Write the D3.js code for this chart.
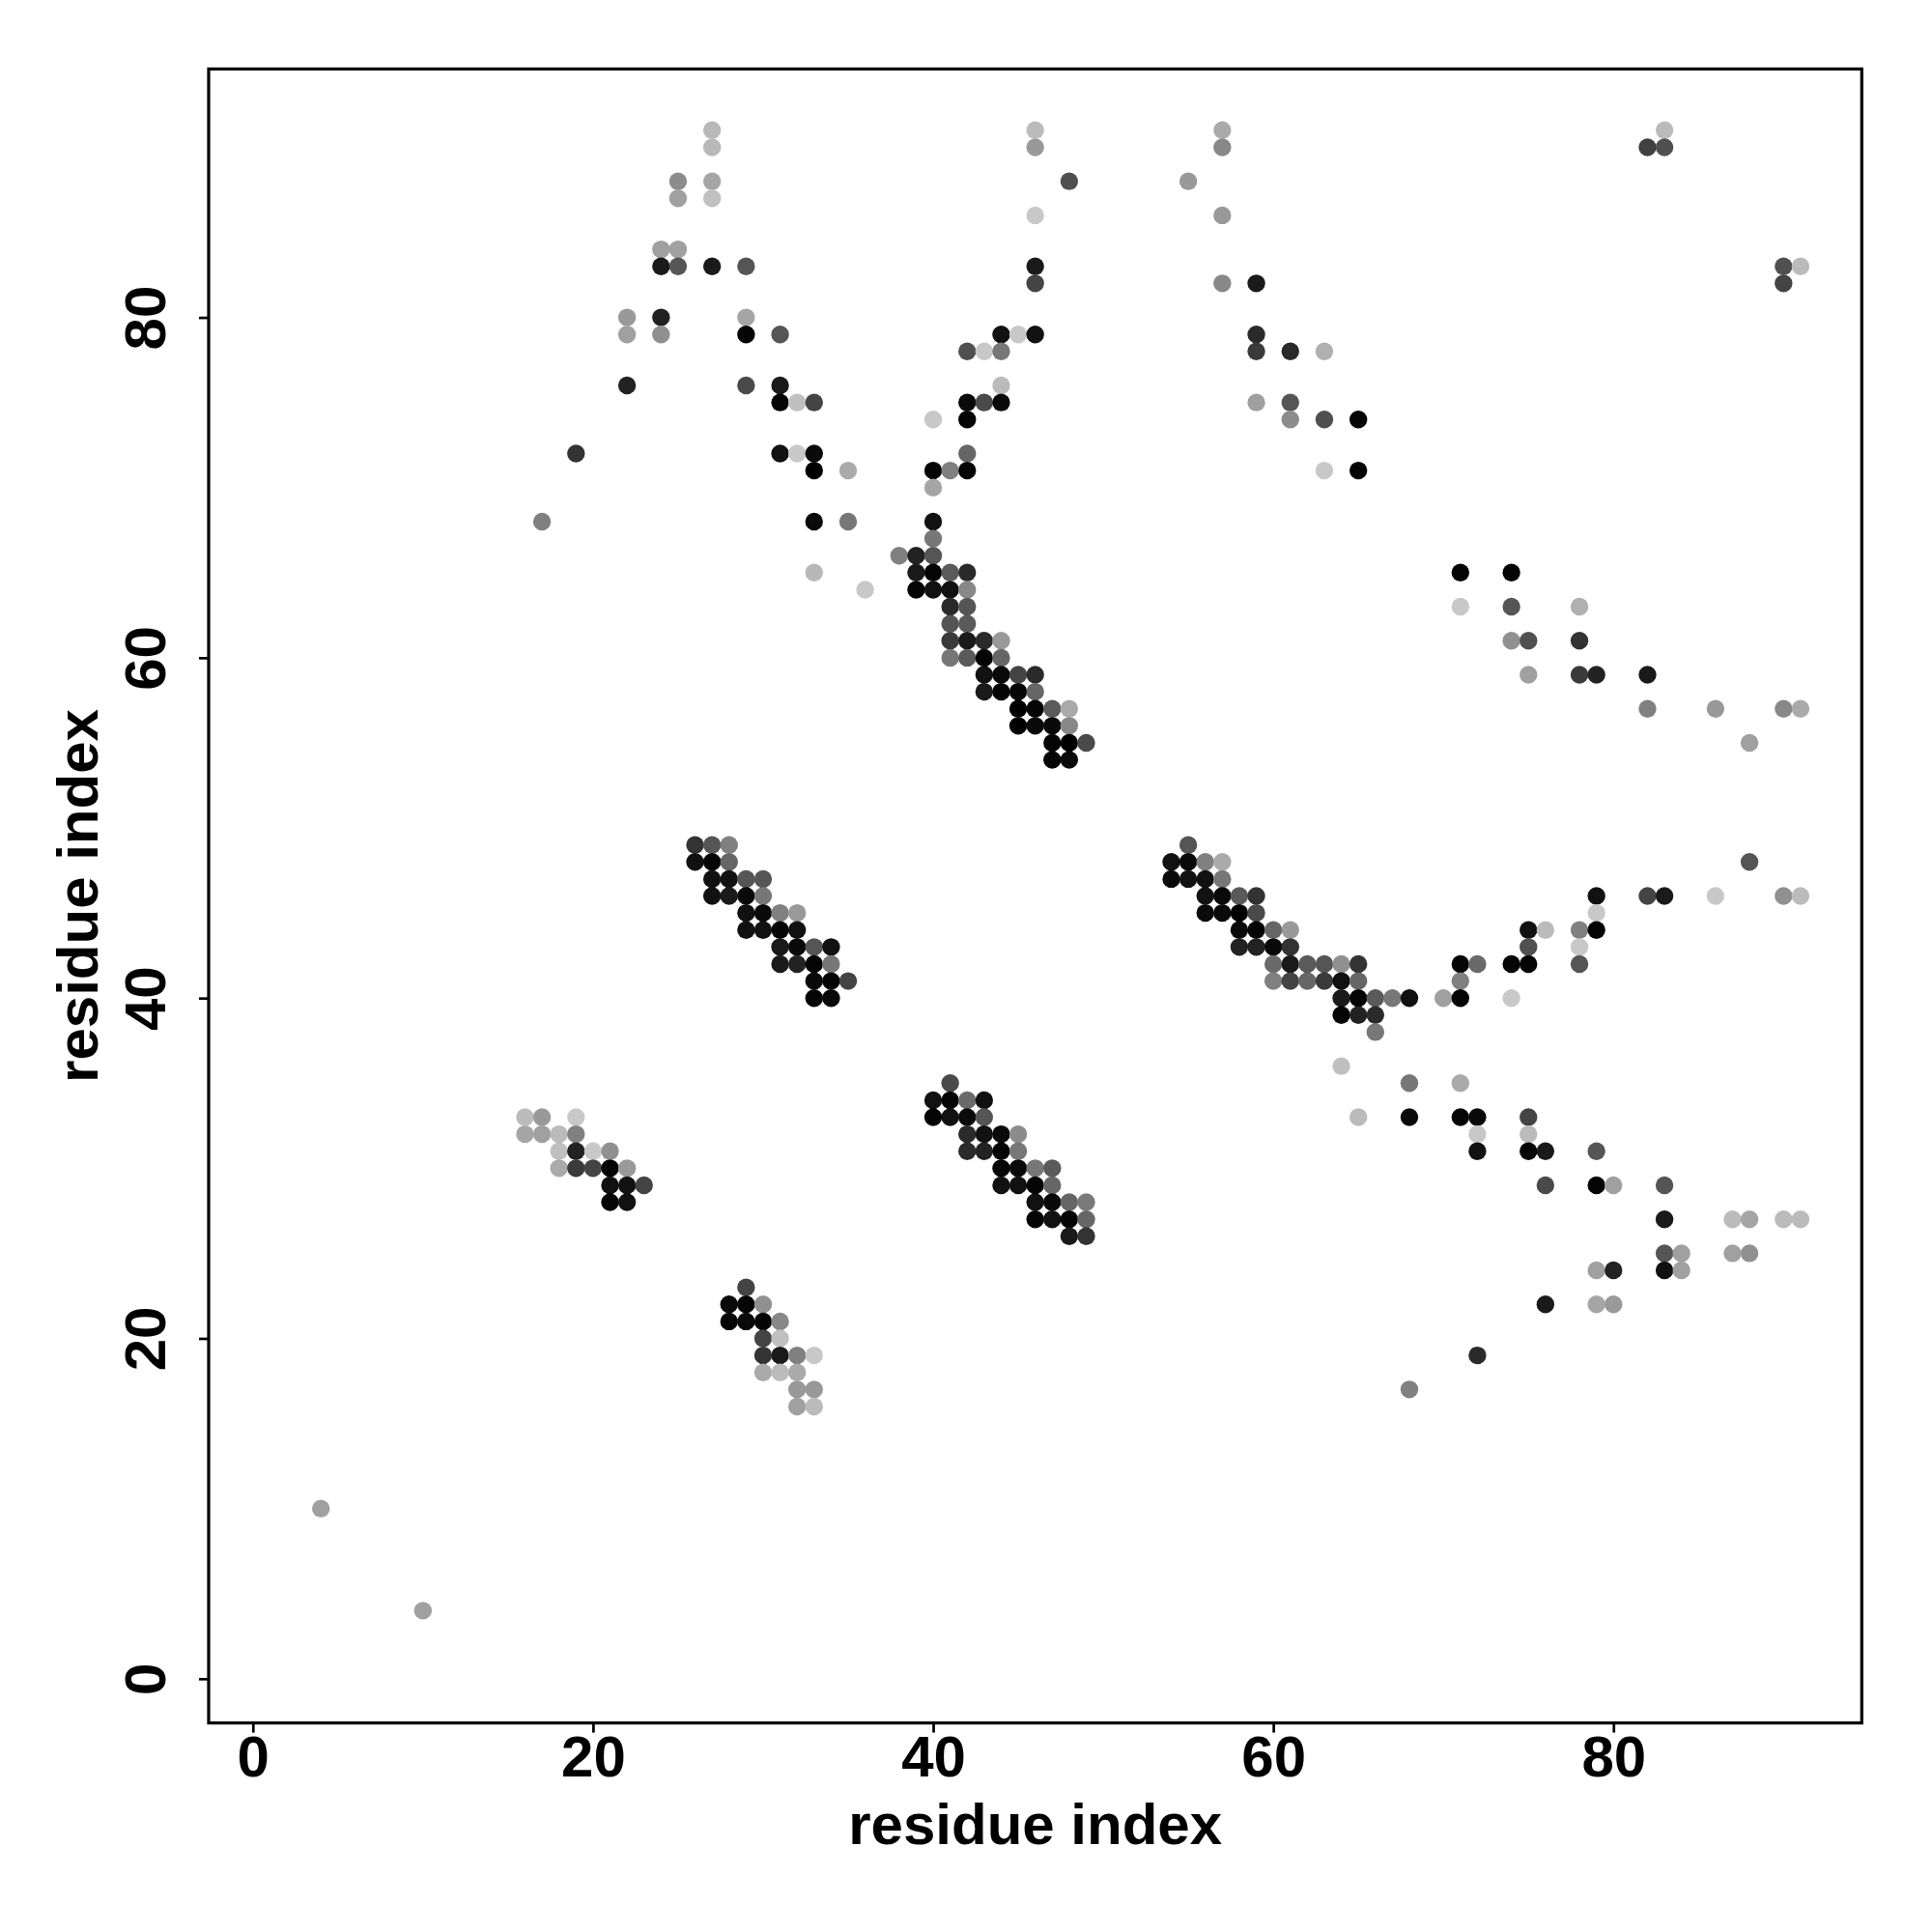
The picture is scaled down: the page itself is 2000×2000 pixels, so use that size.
<!DOCTYPE html>
<html>
<head>
<meta charset="utf-8">
<script src="https://cdn.jsdelivr.net/npm/d3@7"></script>
<style>
  html, body { margin: 0; padding: 0; background: #ffffff; }
  svg { display: block; }
  text { font-family: "Liberation Sans", Arial, Helvetica, sans-serif; font-weight: bold; }
</style>
</head>
<body>
<svg id="chart" width="2000" height="2000"></svg>
<script>
// Contacts: [residue i (x), residue j (y), grey level 0-255]
const strandUpperLeft = [
  [27,91,184],[27,90,184],[25,88,140],[27,88,165],[25,87,160],[27,87,192],
  [24,84,160],[25,84,160],[24,83,26],[25,83,85],[27,83,26],[29,83,85],
  [22,80,153],[24,80,34],[29,80,165],[22,79,160],[24,79,144],[29,79,5],[31,79,85],
  [22,76,34],[29,76,74],[31,76,26],[31,75,5],[32,75,192],[33,75,68],
  [19,72,51],[31,72,17],[32,72,200],[33,72,10],[33,71,0],[35,71,170],
  [17,68,128],[33,68,10],[35,68,119],[33,65,184],[36,64,200]
];
const strandUpperMiddle = [
  [46,91,187],[46,90,153],[48,88,80],[46,86,200],[46,83,26],[46,82,68],
  [44,79,17],[45,79,200],[46,79,17],[42,78,80],[43,78,200],[44,78,119],
  [44,76,187],[42,75,10],[43,75,74],[44,75,10],[40,74,200],[42,74,5],
  [42,72,102],[40,71,5],[41,71,128],[42,71,5],[40,70,165],[40,68,17],[40,67,119],
  [38,66,128],[39,66,34],[40,66,85],[39,65,26],[40,65,5],[41,65,90],[42,65,42],
  [39,64,5],[40,64,17],[41,64,17],[42,64,136],[41,63,42],[42,63,85],
  [41,62,85],[42,62,90],[41,61,58],[42,61,26],[43,61,42],[44,61,153],
  [41,60,119],[42,60,90],[43,60,5],[44,60,102],[43,59,17],[44,59,10],[45,59,68],[46,59,42],
  [43,58,26],[44,58,5],[45,58,5],[46,58,102],[45,57,0],[46,57,5],[47,57,90],[48,57,170],
  [45,56,0],[46,56,10],[47,56,10],[48,56,136],[47,55,5],[48,55,0],[49,55,74],
  [47,54,5],[48,54,10]
];
const strandUpperRight = [
  [57,91,170],[57,90,136],[55,88,153],[57,86,153],[57,82,136],[59,82,26],
  [59,79,42],[59,78,58],[61,78,42],[63,78,176],[59,75,160],[61,75,85],
  [61,74,140],[63,74,80],[65,74,5],[63,71,200],[65,71,5],
  [83,91,187],[82,90,64],[83,90,80],[90,83,80],[91,83,187],[90,82,68],
  [71,65,5],[74,65,5],[71,63,200],[74,63,85],[78,63,176],
  [74,61,144],[75,61,80],[78,61,51],[75,59,160],[78,59,58],[79,59,34],[82,59,26],
  [82,57,128],[86,57,153],[90,57,136],[91,57,170],[88,55,160]
];
const helixBlockA = [
  [26,49,51],[27,49,85],[28,49,128],[26,48,17],[27,48,5],[28,48,102],
  [27,47,17],[28,47,17],[29,47,85],[30,47,85],[27,46,17],[28,46,26],[29,46,10],[30,46,119],
  [29,45,17],[30,45,10],[31,45,128],[32,45,153],[29,44,17],[30,44,17],[31,44,5],[32,44,17],
  [31,43,26],[32,43,10],[33,43,85],[34,43,17],[31,42,26],[32,42,34],[33,42,5],[34,42,119],
  [33,41,10],[34,41,5],[35,41,68],[33,40,5],[34,40,10]
];
const helixBlockB = [
  [16,33,187],[17,33,153],[19,33,200],[16,32,165],[17,32,160],[18,32,187],[19,32,128],
  [18,31,192],[19,31,34],[20,31,200],[21,31,144],
  [18,30,170],[19,30,58],[20,30,68],[21,30,5],[22,30,153],
  [21,29,17],[22,29,17],[23,29,68],[21,28,5],[22,28,17],
  [29,23,68],[28,22,10],[29,22,5],[30,22,144],[28,21,5],[29,21,10],[30,21,5],[31,21,136],
  [30,20,68],[31,20,192],[30,19,51],[31,19,26],[32,19,128],[33,19,200],
  [30,18,170],[31,18,187],[32,18,170],[32,17,153],[33,17,153],[32,16,160],[33,16,187],
  [4,10,160],[10,4,160]
];
const helixBlockC = [
  [41,35,74],[40,34,17],[41,34,5],[42,34,106],[43,34,17],
  [40,33,5],[41,33,17],[42,33,10],[43,33,85],[42,32,42],[43,32,17],[44,32,10],[45,32,140],
  [42,31,42],[43,31,34],[44,31,5],[45,31,119],[44,30,5],[45,30,10],[46,30,119],[47,30,90],
  [44,29,17],[45,29,17],[46,29,5],[47,29,102],[46,28,17],[47,28,10],[48,28,102],[49,28,122],
  [46,27,5],[47,27,17],[48,27,5],[49,27,102],[48,26,26],[49,26,51]
];
const helixBlockD = [
  [55,49,85],[54,48,17],[55,48,10],[56,48,128],[57,48,170],
  [54,47,10],[55,47,17],[56,47,17],[57,47,119],[56,46,17],[57,46,10],[58,46,90],[59,46,51],
  [56,45,10],[57,45,10],[58,45,0],[59,45,74],[58,44,10],[59,44,5],[60,44,102],[61,44,153],
  [58,43,34],[59,43,34],[60,43,10],[61,43,51],
  [60,42,106],[61,42,26],[62,42,90],[63,42,85],[64,42,144],[65,42,51],
  [60,41,128],[61,41,68],[62,41,102],[63,41,58],[64,41,17],[65,41,102],
  [64,40,26],[65,40,5],[66,40,90],[67,40,119],[68,40,17],[70,40,160],
  [64,39,5],[65,39,34],[66,39,42],[66,38,119],[64,36,192]
];
const strandLowerRight = [
  [88,48,85],[79,46,17],[82,46,68],[83,46,26],[86,46,200],[90,46,144],[91,46,187],
  [79,45,200],[75,44,17],[76,44,187],[78,44,128],[79,44,5],[75,43,80],[78,43,200],
  [71,42,5],[72,42,106],[74,42,5],[75,42,5],[78,42,85],[71,41,128],[71,40,5],[74,40,200],
  [65,33,187],[68,35,119],[71,35,170],[68,33,10],[71,33,5],[72,33,10],[75,33,68],
  [72,32,200],[75,32,187],[72,31,17],[75,31,5],[76,31,26],[79,31,85],
  [76,29,74],[79,29,5],[80,29,160],[83,29,85],
  [83,27,26],[87,27,187],[88,27,165],[90,27,187],[91,27,187],
  [83,25,85],[84,25,160],[87,25,160],[88,25,144],
  [79,24,160],[80,24,34],[83,24,17],[84,24,160],
  [76,22,26],[79,22,165],[80,22,153],[72,19,42],[68,17,128]
];
const xTicks = [0, 20, 40, 60, 80];
const yTicks = [0, 20, 40, 60, 80];
const xLabel = "residue index";
const yLabel = "residue index";

const contacts = [].concat(strandUpperLeft, strandUpperMiddle, strandUpperRight,
  helixBlockA, helixBlockB, helixBlockC, helixBlockD, strandLowerRight);

const svg = d3.select("#chart");
svg.append("rect").attr("width", 2000).attr("height", 2000).attr("fill", "#ffffff");

const plot = { left: 216, right: 1927.3, top: 71.4, bottom: 1783.6 };
const x = d3.scaleLinear().domain([-2.6, 94.6]).range([plot.left, plot.right]);
const y = d3.scaleLinear().domain([-2.6, 94.6]).range([plot.bottom, plot.top]);
const fontSize = 60;

// points
svg.append("g").selectAll("circle").data(contacts).join("circle")
  .attr("cx", d => x(d[0]))
  .attr("cy", d => y(d[1]))
  .attr("r", 9.2)
  .attr("fill", d => d3.rgb(d[2], d[2], d[2]).formatHex());

// box
svg.append("rect")
  .attr("x", plot.left).attr("y", plot.top)
  .attr("width", plot.right - plot.left).attr("height", plot.bottom - plot.top)
  .attr("fill", "none").attr("stroke", "#000").attr("stroke-width", 3.2);

// x axis
const gx = svg.append("g").attr("transform", `translate(0,${plot.bottom})`)
  .call(d3.axisBottom(x).tickValues(xTicks).tickSize(10).tickSizeOuter(0).tickFormat(d3.format("d")));
gx.select(".domain").remove();
gx.selectAll(".tick line").attr("stroke", "#000").attr("stroke-width", 2.7);
gx.selectAll(".tick text").attr("y", 55.5).attr("dy", 0)
  .attr("font-size", fontSize).attr("fill", "#000");

// y axis
const gy = svg.append("g").attr("transform", `translate(${plot.left},0)`)
  .call(d3.axisLeft(y).tickValues(yTicks).tickSize(10).tickSizeOuter(0).tickFormat(d3.format("d")));
gy.select(".domain").remove();
gy.selectAll(".tick line").attr("stroke", "#000").attr("stroke-width", 2.7);
gy.selectAll(".tick text")
  .attr("x", 0).attr("y", -45).attr("dy", 0)
  .attr("transform", "rotate(-90)")
  .attr("text-anchor", "middle")
  .attr("font-size", fontSize).attr("fill", "#000");

// axis titles
svg.append("text")
  .attr("x", (plot.left + plot.right) / 2).attr("y", 1909)
  .attr("text-anchor", "middle").attr("font-size", fontSize).attr("fill", "#000")
  .text(xLabel);
svg.append("text")
  .attr("transform", `translate(101,${(plot.top + plot.bottom) / 2}) rotate(-90)`)
  .attr("text-anchor", "middle").attr("font-size", fontSize).attr("fill", "#000")
  .text(yLabel);
</script>
</body>
</html>
